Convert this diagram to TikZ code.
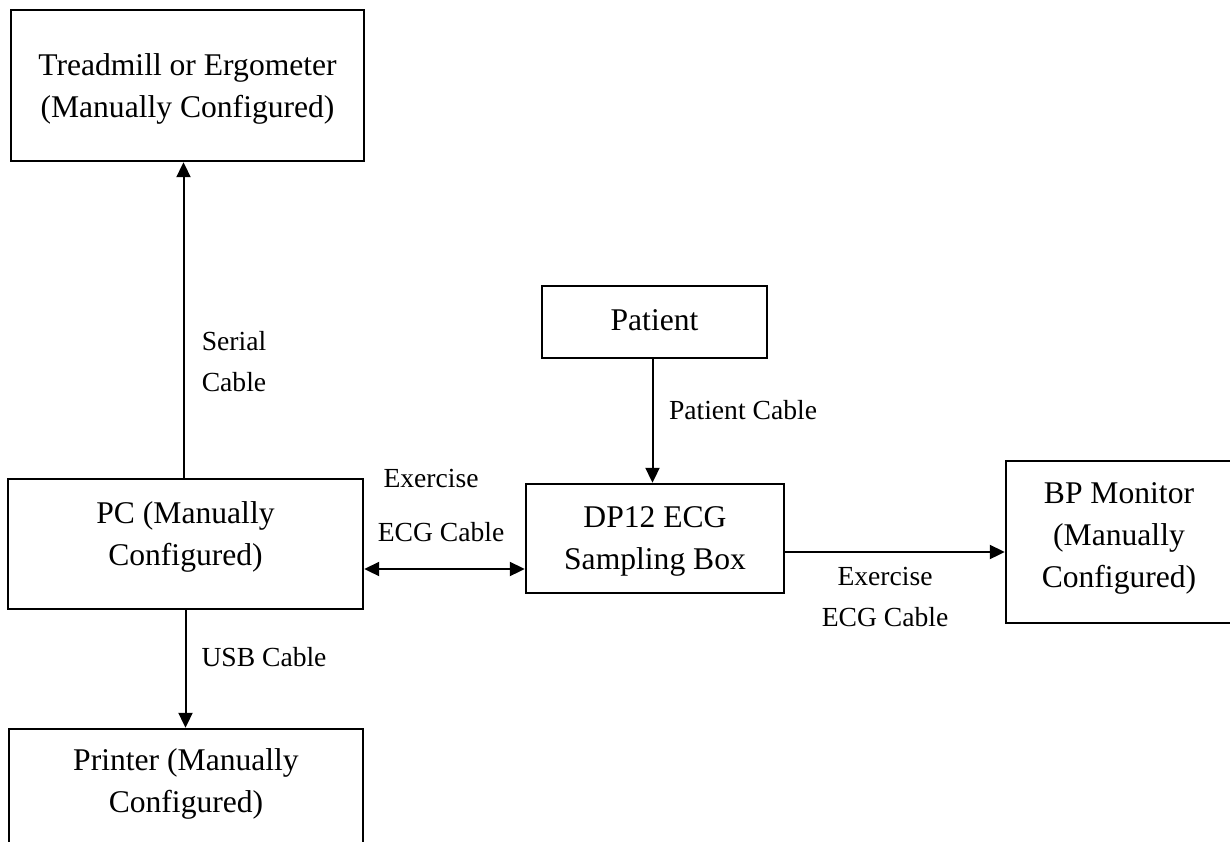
\documentclass[tikz,border=0pt]{standalone}
\usepackage{fontspec}
\setmainfont{Liberation Serif}
\usetikzlibrary{arrows.meta, positioning}

\begin{document}
\begin{tikzpicture}[
        x=0.5pt, y=-0.5pt,
        box/.style={draw, line width=1.2pt, inner sep=0pt},
        boxtext/.style={align=center, font=\fontsize{15.8}{21}\selectfont},
        cable/.style={align=center, font=\fontsize{13.8}{20.5}\selectfont},
        arrow/.style={-{Triangle[length=7.5pt, width=7pt]}, line width=1pt},
        biarrow/.style={{Triangle[length=7.5pt, width=7pt]}-{Triangle[length=7.5pt, width=7pt]}, line width=1pt}
        ]

        \useasboundingbox (0,0) rectangle (1230,841);

        % Boxes
        \node[box, minimum width=176.5pt, minimum height=75.5pt] (treadmill) at (187.5,85.5) {};
        \node[box, minimum width=177.5pt, minimum height=65pt] (pc) at (185.5,544) {};
        \node[box, minimum width=177pt, minimum height=65pt] (printer) at (186,794) {};
        \node[box, minimum width=112.5pt, minimum height=36pt] (patient) at (654.5,322) {};
        \node[box, minimum width=129pt, minimum height=54.5pt] (dp12) at (655,538.5) {};
        \node[box, minimum width=113pt, minimum height=81pt] (bp) at (1119,542) {};

        % Text inside each box
        \node[boxtext] (treadmill-txt) at (187.5,89) {Treadmill or Ergometer\\(Manually Configured)};
        \node[boxtext] (pc-txt) at (185.5,537) {PC (Manually\\Configured)};
        \node[boxtext] (printer-txt) at (186,784) {Printer (Manually\\Configured)};
        \node[boxtext] (patient-txt) at (654.5,320) {Patient};
        \node[boxtext] (dp12-txt) at (655,541) {DP12 ECG\\Sampling Box};
        \node[boxtext] (bp-txt) at (1119,538) {BP Monitor\\(Manually\\Configured)};

        % Cable labels
        \node[cable, align=left] (serial) at (234,362) {Serial\\Cable};
        \node[cable] (usb) at (264,657) {USB Cable};
        \node[cable] (patcable) at (743,410) {Patient Cable};
        \node[cable] (exercise-l) at (431,478) {Exercise};
        \node[cable] (ecg-l) at (441,532) {ECG Cable};
        \node[cable] (exercise-r) at (885,597) {Exercise\\ECG Cable};

        % Connections
        \draw[arrow] ([xshift=-1pt]pc.north) -- ([xshift=-1pt]pc.north |- treadmill.south);
        \draw[arrow] (pc.south) -- (pc.south |- printer.north);
        \draw[arrow] ([xshift=-1pt]patient.south) -- ([xshift=-1pt]patient.south |- dp12.north);
        \draw[biarrow] ([yshift=-12.5pt]pc.east) -- ([yshift=-15.25pt]dp12.west);
        \draw[arrow] ([yshift=-6.75pt]dp12.east) -- ([yshift=-5pt]bp.west);

\end{tikzpicture}
\end{document}
